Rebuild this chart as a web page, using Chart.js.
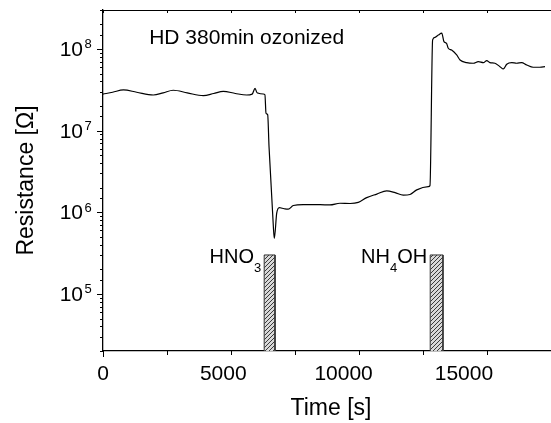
<!DOCTYPE html>
<html>
<head>
<meta charset="utf-8">
<script src="https://cdn.jsdelivr.net/npm/chart.js@4/dist/chart.umd.min.js"></script>
<style>
  body { margin: 0; background: #fff; }
  #wrap { width: 551px; height: 423px; position: relative; }
</style>
</head>
<body>
<div id="wrap"><canvas id="chart"></canvas></div>
<script>
// tiempo [s] y resistencia [Ohm]
const timeValues = [0, 400, 850, 1400, 2090, 2500, 2920, 3500, 4170, 4600, 5000, 5500, 5970, 6200, 6320, 6390, 6460, 6660, 6730,
  6775, 6845, 6900, 7080, 7120, 7220, 7330, 7450, 7560, 7700, 7910, 8320, 9020, 9430, 9850, 10270, 10610, 10960, 11380,
  11790, 12140, 12480, 12760, 13040, 13520, 13590, 13700, 13800, 13935, 14080, 14170, 14280, 14350, 14490, 14700, 14840,
  15115, 15390, 15600, 15810, 15950, 16080, 16290, 16500, 16640, 16780, 16990, 17190, 17400, 17610, 17880, 18160, 18370];
const resistanceValues = [2.8e7, 2.95e7, 3.15e7, 2.95e7, 2.73e7, 2.9e7, 3.12e7, 2.9e7, 2.68e7, 2.85e7, 3.03e7, 2.85e7, 2.73e7, 2.8e7, 3.3e7, 2.95e7, 2.87e7, 2.81e7, 2.75e7,
  1.63e7, 1.56e7, 6.4e6, 6.7e5, 4.8e5, 9.75e5, 1.14e6, 1.12e6, 1.1e6, 1.09e6, 1.21e6, 1.24e6, 1.24e6, 1.23e6, 1.29e6, 1.28e6, 1.32e6, 1.51e6, 1.67e6,
  1.83e6, 1.74e6, 1.62e6, 1.65e6, 1.88e6, 2.06e6, 2.12e6, 1.29e8, 1.39e8, 1.48e8, 1.56e8, 1.23e8, 1.17e8, 1.02e8, 9.7e7, 8.45e7, 7.33e7,
  6.8e7, 6.68e7, 7.0e7, 6.8e7, 7.2e7, 6.8e7, 6.68e7, 6.07e7, 5.69e7, 6.5e7, 6.8e7, 6.68e7, 6.8e7, 6.37e7, 5.97e7, 5.97e7, 6.07e7];

// pulsos de gas: [inicio, fin] en s, altura de la barra
const gasNames = ["HNO3", "NH4OH"];
const gasStart = [6700, 13600];
const gasEnd = [7150, 14130];
const gasBarTop = 3e5;

const xTickLabels = [0, 5000, 10000, 15000];
const yTickExponents = [5, 6, 7, 8];
const xMin = 0, xMax = 18620, yMin = 2e4, yMax = 3e8;

const FONT = "'Liberation Sans', Arial, sans-serif";

// patron rayado para las barras
function hatch() {
  const c = document.createElement("canvas");
  c.width = 4; c.height = 4;
  const g = c.getContext("2d");
  g.fillStyle = "#d8d8d8";
  g.fillRect(0, 0, 4, 4);
  g.strokeStyle = "#3a3a3a";
  g.lineWidth = 1;
  g.beginPath();
  g.moveTo(-1, 1); g.lineTo(1, -1);
  g.moveTo(0, 4); g.lineTo(4, 0);
  g.moveTo(3, 5); g.lineTo(5, 3);
  g.stroke();
  return g.createPattern(c, "repeat");
}

const barSets = gasNames.map((n, i) => ({
  label: n,
  data: [
    { x: gasStart[i], y: yMin }, { x: gasStart[i], y: gasBarTop },
    { x: gasEnd[i], y: gasBarTop }, { x: gasEnd[i], y: yMin }
  ],
  borderColor: "#333",
  borderWidth: 1,
  backgroundColor: hatch(),
  fill: "start",
  pointRadius: 0,
  tension: 0
}));

// ejes, etiquetas y textos
const decor = {
  id: "decor",
  afterDraw(chart) {
    const { ctx, chartArea: a, scales: { x, y } } = chart;
    ctx.save();
    ctx.strokeStyle = "#000";
    ctx.lineWidth = 1;
    ctx.beginPath();
    ctx.moveTo(a.left, a.top + 0.5); ctx.lineTo(a.right, a.top + 0.5);
    x.ticks.forEach(t => {
      const px = Math.round(x.getPixelForValue(t.value)) + 0.5;
      const len = t.value % 5000 === 0 ? 6 : 4;
      ctx.moveTo(px, a.bottom); ctx.lineTo(px, a.bottom + len);
      ctx.moveTo(px, a.top); ctx.lineTo(px, a.top + 3);
    });
    y.ticks.forEach(t => {
      const py = Math.round(y.getPixelForValue(t.value)) + 0.5;
      const e = Math.log10(t.value);
      const len = Math.abs(e - Math.round(e)) < 1e-6 ? 6 : 3;
      ctx.moveTo(a.left, py); ctx.lineTo(a.left - len, py);
    });
    ctx.stroke();

    ctx.fillStyle = "#000";
    ctx.textBaseline = "alphabetic";
    ctx.font = "21px " + FONT;
    ctx.textAlign = "center";
    xTickLabels.forEach(v => ctx.fillText(String(v), x.getPixelForValue(v), 380));
    yTickExponents.forEach(e => {
      const py = y.getPixelForValue(Math.pow(10, e));
      ctx.font = "21px " + FONT;
      ctx.textAlign = "right";
      ctx.fillText("10", 83, py + 7);
      ctx.font = "13px " + FONT;
      ctx.textAlign = "left";
      ctx.fillText(String(e), 84.5, py - 0.5);
    });

    // titulos de ejes
    ctx.font = "23px " + FONT;
    ctx.textAlign = "center";
    ctx.fillText("Time [s]", (a.left + a.right) / 2 + 4, 415);
    ctx.save();
    ctx.translate(33, (a.top + a.bottom) / 2);
    ctx.rotate(-Math.PI / 2);
    ctx.fillText("Resistance [\u03A9]", 0, 0);
    ctx.restore();

    ctx.font = "21px " + FONT;
    ctx.textAlign = "left";
    ctx.fillText("HD 380min ozonized", x.getPixelForValue(1920), y.getPixelForValue(1.14e8));

    // etiquetas de los gases con subindices
    gasNames.forEach((n, i) => {
      const right = x.getPixelForValue(gasStart[i]) - 3;
      const base = y.getPixelForValue(gasBarTop) + 8;
      const m = n.match(/^([A-Z]+)(\d)(.*)$/);
      ctx.font = "20px " + FONT;
      const w1 = ctx.measureText(m[1]).width;
      const w3 = ctx.measureText(m[3]).width;
      ctx.font = "13px " + FONT;
      const w2 = ctx.measureText(m[2]).width;
      let left = right - w1 - w2 - w3;
      ctx.font = "20px " + FONT;
      ctx.fillText(m[1], left, base);
      ctx.font = "13px " + FONT;
      ctx.fillText(m[2], left + w1, base + 9);
      ctx.font = "20px " + FONT;
      ctx.fillText(m[3], left + w1 + w2, base);
    });
    ctx.restore();
  }
};

document.addEventListener("DOMContentLoaded", function () {
  const ctx = document.getElementById("chart").getContext("2d");
  new Chart(ctx, {
    type: "line",
    data: {
      datasets: [
        {
          label: "Resistance",
          data: timeValues.map((t, i) => ({ x: t, y: resistanceValues[i] })),
          borderColor: "#000",
          borderWidth: 1.2,
          pointRadius: 0,
          fill: false,
          cubicInterpolationMode: "monotone"
        },
        ...barSets
      ]
    },
    options: {
      responsive: true,
      maintainAspectRatio: false,
      animation: false,
      layout: { padding: { top: 10, left: 0, right: 0, bottom: 0 } },
      plugins: { legend: { display: false }, tooltip: { enabled: false } },
      scales: {
        x: {
          type: "linear",
          min: xMin,
          max: xMax,
          afterFit: s => { s.height = 72; },
          ticks: { display: false, stepSize: 2500, includeBounds: false },
          grid: { display: false },
          border: { display: true, color: "#000", width: 1.3 }
        },
        y: {
          type: "logarithmic",
          min: yMin,
          max: yMax,
          afterFit: s => { s.width = 103; },
          ticks: { display: false },
          grid: { display: false },
          border: { display: true, color: "#000", width: 1.3 }
        }
      }
    },
    plugins: [decor]
  });
});
</script>
</body>
</html>
